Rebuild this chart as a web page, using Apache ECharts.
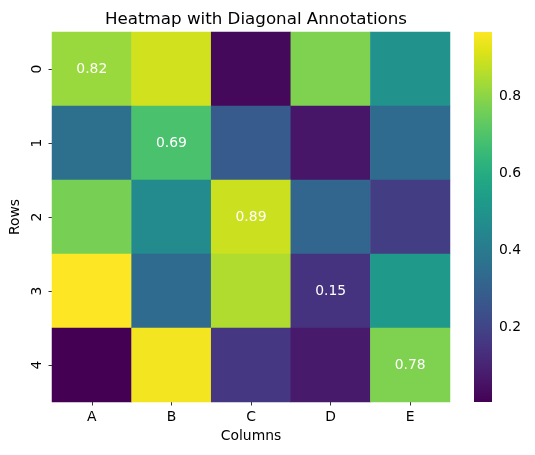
<!DOCTYPE html>
<html>
<head>
<meta charset="utf-8">
<script src="https://cdn.jsdelivr.net/npm/echarts@6/dist/echarts.min.js"></script>
<style>
html,body{margin:0;padding:0;background:#fff;}
#chart{width:535px;height:455px;}
</style>
</head>
<body>
<div id="chart"></div>
<script>
const columns = ['A', 'B', 'C', 'D', 'E'];
const rows = ['0', '1', '2', '3', '4'];
const row0 = [0.82, 0.90, 0.03, 0.78, 0.49];
const row1 = [0.36, 0.69, 0.28, 0.065, 0.34];
const row2 = [0.77, 0.46, 0.89, 0.32, 0.18];
const row3 = [0.966, 0.34, 0.85, 0.15, 0.52];
const row4 = [0.008, 0.95, 0.16, 0.075, 0.78];
const colorbarTicks = [0.2, 0.4, 0.6, 0.8];
const viridis = ['#440154','#471365','#482475','#463480','#414487','#3b528b','#355f8d','#2f6c8e','#2a788e','#25848e','#21918c','#1e9c89','#22a884','#2fb47c','#44bf70','#5ec962','#7ad151','#9bd93c','#bddf26','#dfe318','#fde725'];

const matrix = [row0, row1, row2, row3, row4];
const all = matrix.flat();
const vmin = Math.min(...all);
const vmax = Math.max(...all);

const heatData = [];
matrix.forEach((r, ri) => {
  r.forEach((v, ci) => {
    const item = { value: [ci, ri, v] };
    if (ri === ci) {
      item.label = { show: true };
    }
    heatData.push(item);
  });
});

const FONT = 'DejaVu Sans';
const chart = echarts.init(document.getElementById('chart'), null, { renderer: 'canvas' });
const stops = viridis.map((c, i) => ({ offset: i / (viridis.length - 1), color: c }));

chart.setOption({
  animation: false,
  backgroundColor: '#fff',
  textStyle: { fontFamily: FONT },
  title: {
    text: 'Heatmap with Diagonal Annotations',
    left: 251,
    textAlign: 'center',
    top: 6,
    textStyle: { fontFamily: FONT, fontSize: 16.7, fontWeight: 'normal', color: '#000' }
  },
  grid: [
    { left: 52, top: 32, width: 398, height: 370 },
    { left: 474, top: 32, width: 18, height: 370 }
  ],
  xAxis: [
    {
      gridIndex: 0, type: 'category', data: columns,
      name: 'Columns', nameLocation: 'middle', nameGap: 27,
      nameTextStyle: { fontFamily: FONT, fontSize: 13.9, color: '#000' },
      axisLine: { show: false },
      axisTick: { show: true, alignWithLabel: true, length: 3.5, lineStyle: { color: '#000', width: 0.8 } },
      axisLabel: { margin: 8, fontFamily: FONT, fontSize: 13.9, color: '#000' },
      splitLine: { show: false }, splitArea: { show: false }
    },
    {
      gridIndex: 1, type: 'value', min: 0, max: 1, show: false
    }
  ],
  yAxis: [
    {
      gridIndex: 0, type: 'category', data: rows, inverse: true,
      name: 'Rows', nameLocation: 'middle', nameGap: 28, nameRotate: 90,
      nameTextStyle: { fontFamily: FONT, fontSize: 13.9, color: '#000' },
      axisLine: { show: false },
      axisTick: { show: true, alignWithLabel: true, length: 3.5, lineStyle: { color: '#000', width: 0.8 } },
      axisLabel: { margin: 8, rotate: 90, fontFamily: FONT, fontSize: 13.9, color: '#000' },
      splitLine: { show: false }, splitArea: { show: false }
    },
    {
      gridIndex: 1, type: 'value', min: vmin, max: vmax, position: 'right',
      axisLine: { show: false },
      axisTick: { show: true, length: 3.5, customValues: colorbarTicks, lineStyle: { color: '#000', width: 0.8 } },
      axisLabel: { margin: 7, customValues: colorbarTicks, formatter: v => v.toFixed(1), fontFamily: FONT, fontSize: 13.9, color: '#000' },
      splitLine: { show: false }
    }
  ],
  visualMap: {
    show: false, type: 'continuous', min: vmin, max: vmax, dimension: 2, seriesIndex: 0,
    inRange: { color: viridis }
  },
  series: [
    {
      type: 'heatmap', xAxisIndex: 0, yAxisIndex: 0, data: heatData,
      label: {
        show: false, color: '#fff', fontFamily: FONT, fontSize: 13.9,
        formatter: p => p.value[2].toFixed(2)
      },
      itemStyle: { borderWidth: 0 },
      emphasis: { disabled: true }
    },
    {
      type: 'custom', xAxisIndex: 1, yAxisIndex: 1, silent: true,
      data: [[vmin, vmax]],
      renderItem: function (params, api) {
        const p1 = api.coord([0, api.value(1)]);
        const p2 = api.coord([1, api.value(0)]);
        return {
          type: 'rect',
          shape: { x: p1[0], y: p1[1], width: p2[0] - p1[0], height: p2[1] - p1[1] },
          style: { fill: new echarts.graphic.LinearGradient(0, 1, 0, 0, stops) }
        };
      }
    }
  ]
});
</script>
</body>
</html>
